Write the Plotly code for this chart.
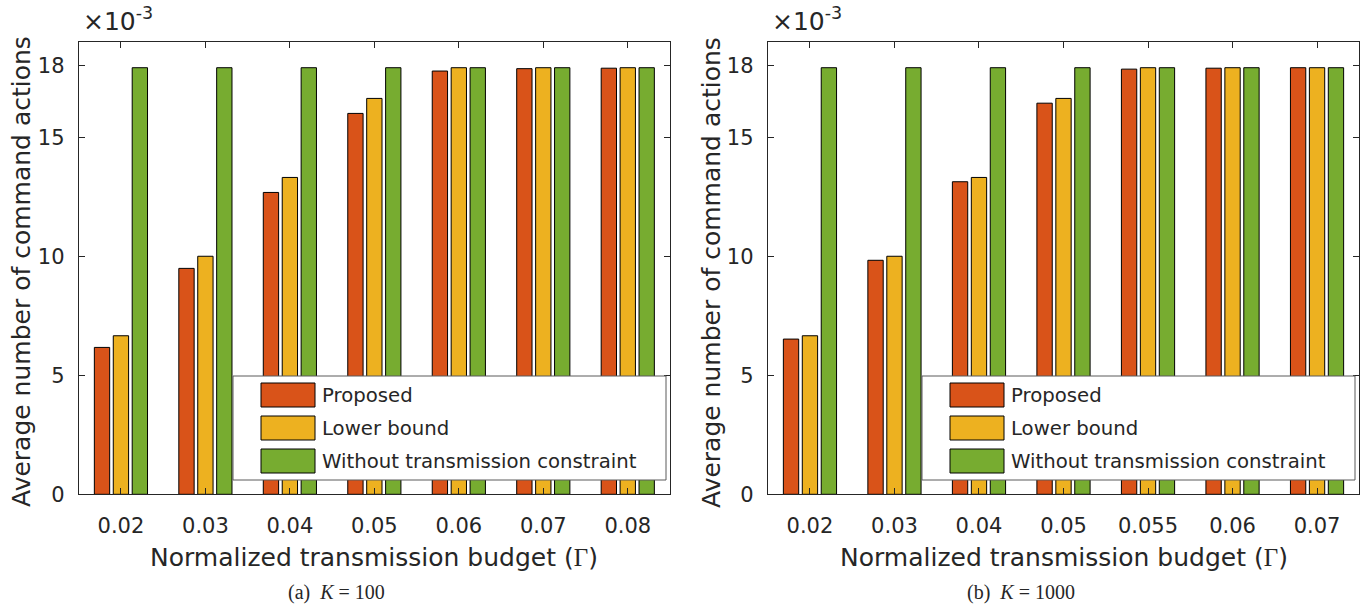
import plotly.graph_objects as go

# Budget levels (category labels) for the two cases
budget_k100 = ["0.02", "0.03", "0.04", "0.05", "0.06", "0.07", "0.08"]
budget_k1000 = ["0.02", "0.03", "0.04", "0.05", "0.055", "0.06", "0.07"]

# Average number of command actions, in units of 1e-3
proposed_k100 = [6.17, 9.49, 12.68, 16.0, 17.78, 17.88, 17.9]
lower_k100 = [6.66, 10.0, 13.31, 16.63, 17.92, 17.92, 17.92]
unconstrained_k100 = [17.92, 17.92, 17.92, 17.92, 17.92, 17.92, 17.92]

proposed_k1000 = [6.52, 9.83, 13.13, 16.43, 17.86, 17.9, 17.92]
lower_k1000 = [6.66, 10.0, 13.31, 16.63, 17.92, 17.92, 17.92]
unconstrained_k1000 = [17.92, 17.92, 17.92, 17.92, 17.92, 17.92, 17.92]

series_names = ["Proposed", "Lower bound", "Without transmission constraint"]
colors = ["#D95319", "#EDB120", "#77AC30"]
y_ticks = [0, 5, 10, 15, 18]

W, H = 1366, 607
INK = "#262626"
FONT = "DejaVu Sans"


def px(x):
    return x / W


def py(y):
    return 1 - y / H


fig = go.Figure()

panels = [
    ("x", "y", budget_k100, [proposed_k100, lower_k100, unconstrained_k100]),
    ("x2", "y2", budget_k1000, [proposed_k1000, lower_k1000, unconstrained_k1000]),
]
for xa, ya, cats, series in panels:
    for name, vals, col in zip(series_names, series, colors):
        fig.add_trace(go.Bar(
            x=cats, y=vals, name=name, xaxis=xa, yaxis=ya,
            marker=dict(color=col, line=dict(color="#000000", width=1)),
            showlegend=False,
        ))

axis_common = dict(
    showline=True, linecolor=INK, linewidth=1, mirror="ticks",
    ticks="inside", ticklen=6, tickcolor=INK, tickwidth=1,
    showgrid=False, zeroline=False,
    tickfont=dict(family=FONT, size=21, color=INK),
)

plot_top, plot_bottom = 42, 494.3
left_dom = [px(78.7), px(670)]
right_dom = [px(767.7), px(1359.3)]
y_dom = [py(plot_bottom), py(plot_top)]

fig.update_layout(
    width=W, height=H,
    margin=dict(l=0, r=0, t=0, b=0, autoexpand=False),
    paper_bgcolor="white", plot_bgcolor="white",
    barmode="group", bargap=0.328, bargroupgap=0.19,
    xaxis=dict(domain=left_dom, type="category", range=[-0.5, 6.5],
               anchor="y", ticklabelstandoff=12, **axis_common),
    yaxis=dict(domain=y_dom, range=[0, 19], tickvals=y_ticks,
               anchor="x", ticklabelstandoff=9, **axis_common),
    xaxis2=dict(domain=right_dom, type="category", range=[-0.5, 6.5],
                anchor="y2", ticklabelstandoff=12, **axis_common),
    yaxis2=dict(domain=y_dom, range=[0, 19], tickvals=y_ticks,
                anchor="x2", ticklabelstandoff=9, **axis_common),
)

shapes = []
annotations = []


def add_text(x, y, text, size, xanchor="center", yanchor="middle",
             angle=0, family=FONT):
    annotations.append(dict(
        x=px(x), y=py(y), xref="paper", yref="paper", text=text,
        showarrow=False, xanchor=xanchor, yanchor=yanchor, textangle=angle,
        font=dict(family=family, size=size, color=INK),
    ))


xtitle = ('Normalized transmission budget '
          '(<span style="font-family:Liberation Serif">Γ</span>)')
ytitle = "Average number of command actions"

# Per-panel decorations: exponent, axis titles, legend, subcaption
panel_geom = [
    dict(x0=78.7, x1=670, ylab=21, leg=(233, 666), cap=336,
         caption="(a)&nbsp;&nbsp;<i>K</i>&nbsp;=&nbsp;100"),
    dict(x0=767.7, x1=1359.3, ylab=711, leg=(922, 1355), cap=1021,
         caption="(b)&nbsp;&nbsp;<i>K</i>&nbsp;=&nbsp;1000"),
]
for g in panel_geom:
    cx = (g["x0"] + g["x1"]) / 2
    add_text(g["x0"] + 2, 38, "×10<sup>-3</sup>", 25, xanchor="left",
             yanchor="bottom")
    add_text(cx, 557, xtitle, 25)
    add_text(g["ylab"], 272, ytitle, 25, angle=-90)
    add_text(g["cap"], 606, g["caption"], 20, yanchor="bottom",
             family="Liberation Serif")

    lx0, lx1 = g["leg"]
    shapes.append(dict(type="rect", xref="paper", yref="paper",
                       x0=px(lx0), x1=px(lx1), y0=py(480), y1=py(376),
                       fillcolor="white", line=dict(color="#5a5a5a", width=1),
                       layer="above"))
    for i, (name, col) in enumerate(zip(series_names, colors)):
        top = 383 + i * 33
        shapes.append(dict(type="rect", xref="paper", yref="paper",
                           x0=px(lx0 + 28), x1=px(lx0 + 82),
                           y0=py(top + 24), y1=py(top),
                           fillcolor=col, line=dict(color="#000000", width=1),
                           layer="above"))
        add_text(lx0 + 87, top + 12, name, 19.7, xanchor="left")

fig.update_layout(shapes=shapes, annotations=annotations)

fig.write_html("out.html")
